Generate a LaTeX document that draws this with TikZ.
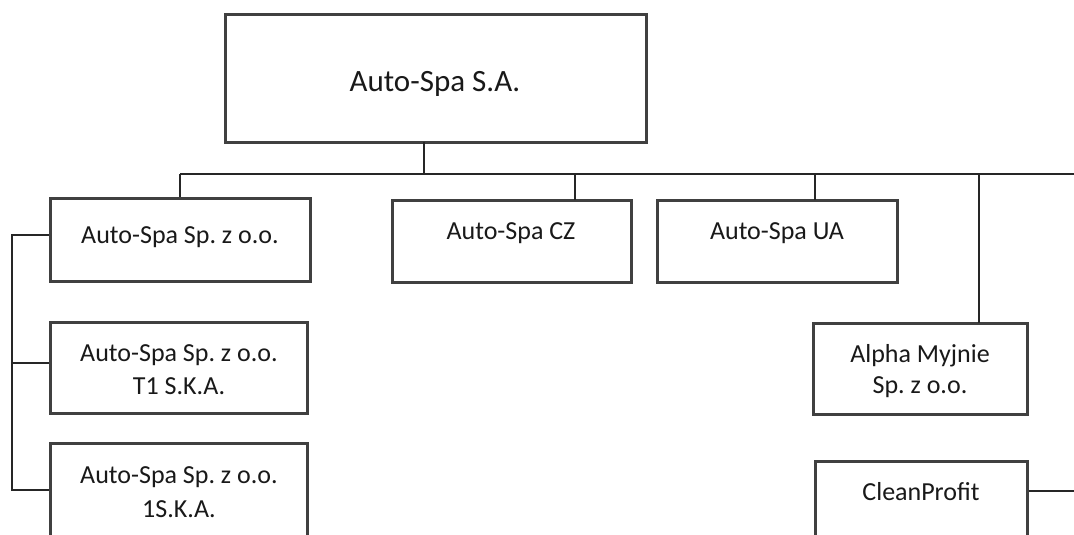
\documentclass[tikz,border=0pt]{standalone}
\usepackage{fontspec}
\setmainfont{Carlito}
\frenchspacing
\begin{document}
\begin{tikzpicture}[x=1pt,y=-1pt,
 box/.style={draw=black!75, line width=3pt, inner sep=0pt},
 conn/.style={draw=black!85, line width=1.1pt},
 lbl/.style={anchor=base, inner sep=0pt, font=\fontsize{26}{30}\selectfont, text=black!90},
 biglbl/.style={anchor=base, inner sep=0pt, font=\fontsize{31}{36}\selectfont, text=black!90}]
\useasboundingbox (0,0) rectangle (1074,535);
\clip (0,0) rectangle (1074,535);
\fill[white] (0,0) rectangle (1074,535);

% boxes
\node[box, minimum width=421pt, minimum height=127pt] (top) at (435.5,78.5) {};
\node[box, minimum width=260pt, minimum height=83pt] (b1) at (180,239.5) {};
\node[box, minimum width=239pt, minimum height=82pt] (cz) at (511.5,241) {};
\node[box, minimum width=240pt, minimum height=82pt] (ua) at (777,241) {};
\node[box, minimum width=257pt, minimum height=91pt] (b2) at (178.5,367.5) {};
\node[box, minimum width=257pt, minimum height=117pt] (b3) at (178.5,501.5) {};
\node[box, minimum width=214pt, minimum height=91pt] (al) at (920,368.5) {};
\node[box, minimum width=212pt, minimum height=109pt] (cp) at (921,515.5) {};

% labels
\node[biglbl] (ttop) at (435,92) {Auto-Spa S.A.};
\node[lbl] (tb1) at (180,243) {Auto-Spa Sp. z o.o.};
\node[lbl] (tcz) at (511,239) {Auto-Spa CZ};
\node[lbl] (tua) at (777,239) {Auto-Spa UA};
\node[lbl] (tb2a) at (179,361) {Auto-Spa Sp. z o.o.};
\node[lbl] (tb2b) at (179,394) {T1 S.K.A.};
\node[lbl] (tb3a) at (179,483) {Auto-Spa Sp. z o.o.};
\node[lbl] (tb3b) at (179,517) {1S.K.A.};
\node[lbl] (tala) at (920,362) {Alpha Myjnie};
\node[lbl] (talb) at (920,393) {Sp. z o.o.};
\node[lbl] (tcp) at (921,500) {CleanProfit};

% connector points
\coordinate (tc) at (424,142);
\coordinate (busL) at (180,174);
\coordinate (busR) at (1074,174);
\coordinate (czc) at (575,200);
\coordinate (uac) at (815,200);
\coordinate (alc) at (979,323);
\coordinate (lx) at (12,0);
\coordinate (cpR) at (1074,491);

\draw[conn] (tc) -- (tc |- busL);
\draw[conn] (busL) -- (busR);
\draw[conn] (b1.north) -- (busL);
\draw[conn] (czc) -- (czc |- busL);
\draw[conn] (uac) -- (uac |- busL);
\draw[conn] (alc) -- (alc |- busL);
\draw[conn] (b1.west |- 0,235) -- (lx |- 0,235) -- (lx |- 0,490) -- (b3.west |- 0,490);
\draw[conn] (b2.west |- 0,363) -- (lx |- 0,363);
\draw[conn] (cp.east |- cpR) -- (cpR);
\end{tikzpicture}
\end{document}
